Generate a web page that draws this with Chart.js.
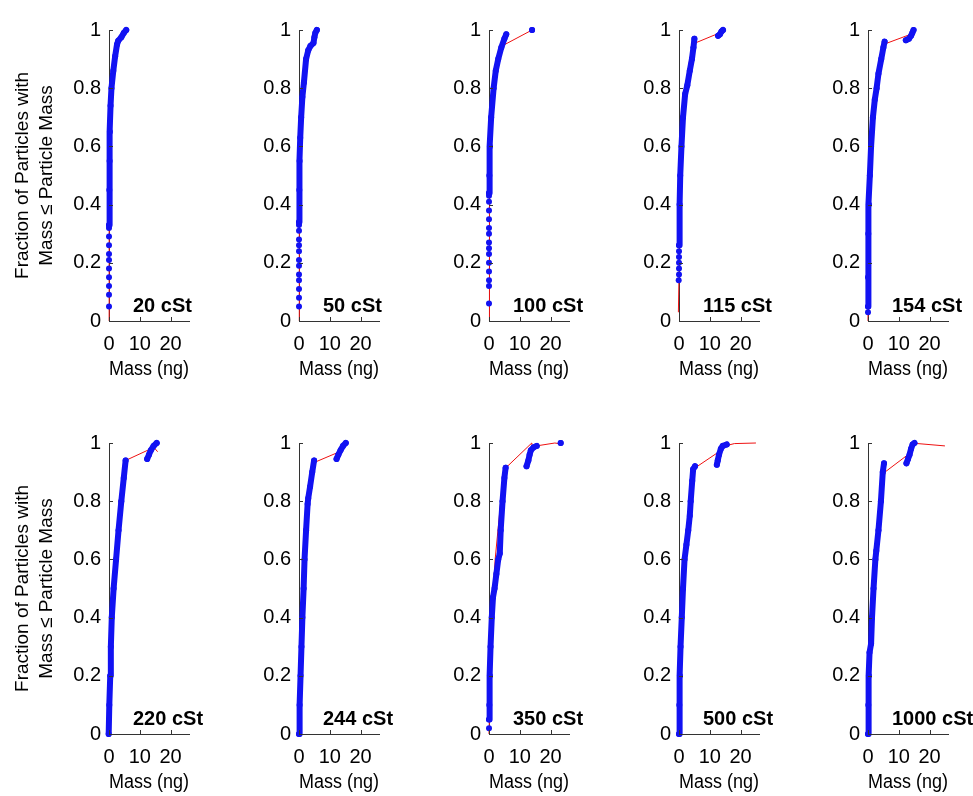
<!DOCTYPE html>
<html>
<head>
<meta charset="utf-8">
<script src="https://cdn.jsdelivr.net/npm/chart.js@4.4.0/dist/chart.umd.min.js"></script>
<style>
  html, body { margin: 0; padding: 0; background: #fff; overflow: hidden; }
  #wrap { position: relative; width: 973px; height: 796px; }
  #wrap canvas { position: absolute; }
</style>
</head>
<body>
<div id="wrap"></div>
<script>
// viscosity of each panel, read left to right, top to bottom
var panelNames = ['20 cSt', '50 cSt', '100 cSt', '115 cSt', '154 cSt',
                  '220 cSt', '244 cSt', '350 cSt', '500 cSt', '1000 cSt'];

var xTicks = [0, 10, 20];
var yTicks = [0, 0.2, 0.4, 0.6, 0.8, 1];

// [mass (ng), fraction]; null breaks the blue band
var dots20 = [[0,0.05],[0,0.09],[0,0.12],[0,0.15],[0,0.18],[0,0.21],[0,0.23],[0,0.26],[0,0.29],[0,0.32]];
var band20 = [[0,0.33],[0.1,0.45],[0.2,0.55],[0.3,0.65],[0.5,0.74],[0.8,0.8],[1.4,0.86],[2.0,0.91],[2.6,0.95],[3.0,0.963],[4.0,0.975],[4.8,0.99],[5.6,1.0]];
var fit20 = [[0,0],[0,0.05],[0.1,0.45],[0.5,0.74],[1.4,0.86],[2.6,0.95],[5.6,1.0]];

var dots50 = [[0,0.05],[0,0.08],[0,0.11],[0,0.14],[0,0.16],[0,0.19],[0,0.21],[0,0.24],[0,0.26],[0,0.28],[0,0.31],[0,0.33]];
var band50 = [[0,0.34],[0.1,0.45],[0.2,0.55],[0.4,0.63],[0.7,0.7],[1.1,0.77],[1.6,0.82],[2.3,0.9],[3.0,0.93],[3.7,0.945],[4.7,0.955],[5.0,0.975],[5.3,0.99],[5.8,1.0]];
var fit50 = [[0,0],[0,0.05],[0.2,0.55],[1.1,0.77],[2.3,0.9],[4.7,0.955],[5.8,1.0]];

var dots100 = [[0,0.06],[0,0.12],[0,0.14],[0,0.17],[0,0.2],[0,0.23],[0,0.25],[0,0.27],[0,0.3],[0,0.32],[0,0.35],[0,0.38],[0,0.41],[0,0.43]];
var band100 = [[0,0.44],[0.1,0.5],[0.3,0.6],[0.7,0.7],[1.5,0.8],[2.2,0.86],[3.0,0.9],[4.0,0.94],[5.0,0.97],[5.6,0.985],null,[14,1.0]];
var fit100 = [[0,0],[0,0.06],[0.3,0.6],[1.5,0.8],[3.0,0.9],[5.1,0.95],[14,1.0]];

var dots115 = [[-0.2,0.03],[-0.2,0.05],[-0.2,0.08],[-0.1,0.1],[-0.1,0.12],[-0.1,0.14],[0,0.16],[0,0.18],[0,0.2],[0,0.22],[0,0.24]];
var band115 = [[0,0.26],[0.2,0.4],[0.4,0.5],[0.8,0.6],[1.3,0.7],[2.0,0.78],[2.7,0.81],[3.5,0.86],[4.2,0.9],[4.7,0.94],[5.0,0.97],null,[12.7,0.98],[13.3,0.985],[13.8,0.995],[14.3,1.0]];
var fit115 = [[-0.2,0],[-0.2,0.03],[0,0.16],[0.4,0.5],[1.3,0.7],[1.9,0.79],[3.5,0.9],[5.2,0.955],[13.2,0.99],[14.3,1.0]];

var dots154 = [[0,0.03]];
var band154 = [[0,0.05],[0,0.15],[0.1,0.3],[0.3,0.4],[0.6,0.5],[1.0,0.6],[1.6,0.7],[2.2,0.76],[2.8,0.8],[3.4,0.85],[4.3,0.9],[5.0,0.94],[5.4,0.96],null,[12.3,0.965],[13.3,0.97],[14.0,0.98],[14.4,0.99],[14.8,1.0]];
var fit154 = [[0,0],[0,0.03],[1.0,0.6],[2.8,0.8],[5.4,0.955],[6.2,0.955],[13.8,0.985],[14.8,1.0]];

var dots220 = [];
var band220 = [[-0.1,0],[0.1,0.1],[0.4,0.2],[0.6,0.3],[0.9,0.4],[1.5,0.5],[2.3,0.6],[3.1,0.7],[4.0,0.8],[4.8,0.88],[5.4,0.94],null,[12.4,0.945],[13.0,0.96],[13.6,0.975],[14.5,0.99],[15.5,1.0]];
var fit220 = [[0,0],[0.9,0.4],[2.2,0.6],[3.3,0.8],[5.4,0.94],[14.6,0.985],[15.8,0.97]];

var dots244 = [];
var band244 = [[0,0],[0.2,0.1],[0.5,0.2],[0.8,0.3],[1.1,0.4],[1.5,0.5],[1.8,0.6],[2.3,0.7],[2.8,0.79],[3.0,0.81],[3.6,0.85],[4.3,0.9],[4.9,0.94],null,[12.2,0.945],[12.8,0.96],[13.5,0.975],[14.3,0.99],[15.2,1.0]];
var fit244 = [[0,0],[1.1,0.4],[2.3,0.7],[4.3,0.9],[5.4,0.935],[13.2,0.97],[15.2,1.0]];

var dots350 = [[0,0.02]];
var band350 = [[0,0.05],[0.1,0.1],[0.3,0.2],[0.5,0.3],[0.9,0.4],[1.3,0.47],[1.8,0.5],[2.4,0.55],[3.0,0.6],[3.5,0.62],[3.8,0.7],[4.4,0.8],[5.0,0.88],[5.4,0.915],null,[12.2,0.92],[12.8,0.94],[13.2,0.96],[13.6,0.975],[14.5,0.985],[15.5,0.99],null,[23.3,1.0]];
var fit350 = [[0,0],[0.9,0.4],[2.0,0.6],[4.0,0.82],[5.5,0.915],[13.9,1.0],[14.2,0.975],[15.4,0.99],[21.4,1.0],[23.3,0.997]];

var dots500 = [];
var band500 = [[0,0],[0.1,0.1],[0.3,0.2],[0.5,0.3],[0.9,0.4],[1.3,0.5],[1.8,0.6],[2.4,0.65],[3.0,0.7],[3.5,0.75],[3.8,0.8],[4.3,0.87],[4.6,0.91],[5.2,0.92],null,[12.3,0.925],[12.6,0.94],[13.0,0.96],[13.6,0.98],[14.2,0.99],[15.5,0.995]];
var fit500 = [[0,0],[0.9,0.4],[1.8,0.6],[3.8,0.8],[5.2,0.92],[6.0,0.92],[13.0,0.97],[15.0,0.99],[18,0.998],[25,1.0]];

var dots1000 = [];
var band1000 = [[0,0],[0.1,0.1],[0.3,0.2],[0.5,0.28],[1.0,0.31],[1.3,0.4],[1.8,0.5],[2.4,0.6],[2.7,0.63],[3.4,0.7],[4.2,0.8],[4.8,0.9],[5.2,0.93],null,[12.5,0.93],[13.0,0.945],[13.5,0.96],[14.0,0.98],[14.5,0.995],[15.1,1.0]];
var fit1000 = [[0,0],[0.5,0.28],[1.3,0.4],[2.4,0.6],[4.2,0.8],[5.5,0.9],[13.0,0.96],[14.0,1.0],[25,0.99]];

var dotSets = [dots20, dots50, dots100, dots115, dots154, dots220, dots244, dots350, dots500, dots1000];
var bandSets = [band20, band50, band100, band115, band154, band220, band244, band350, band500, band1000];
var fitSets = [fit20, fit50, fit100, fit115, fit154, fit220, fit244, fit350, fit500, fit1000];

// layout of the grid (pixels)
var colX = [109, 299, 489, 679, 868];
var rowTop = [24, 437];
var plotW = 80, plotH = 297;
var padTop = 14, axisH = 62, padRight = 32;
var FONT = "'Liberation Sans', Arial, Helvetica, sans-serif";
var BLUE = '#1212f2', RED = '#ee1111', AXIS = '#333';

Chart.defaults.font.family = FONT;
Chart.defaults.color = '#000';

function toXY(arr) {
    return arr.map(function (p) { return p ? {x: p[0], y: p[1]} : {x: null, y: null}; });
}

// MATLAB style ticks pointing into the plot, plus the viscosity label
var panelDeco = {
    id: 'panelDeco',
    afterDraw: function (chart, args, opts) {
        var ctx = chart.ctx, a = chart.chartArea;
        var sx = chart.scales.x, sy = chart.scales.y;
        ctx.save();
        ctx.strokeStyle = AXIS;
        ctx.lineWidth = 1;
        ctx.beginPath();
        sx.ticks.forEach(function (t) {
            var px = Math.round(sx.getPixelForValue(t.value)) + 0.5;
            ctx.moveTo(px, a.bottom);
            ctx.lineTo(px, a.bottom - 4);
        });
        sy.ticks.forEach(function (t) {
            var py = Math.round(sy.getPixelForValue(t.value)) + 0.5;
            ctx.moveTo(a.left, py);
            ctx.lineTo(a.left + 4, py);
        });
        ctx.stroke();
        ctx.fillStyle = '#000';
        ctx.font = 'bold 20px ' + FONT;
        ctx.textAlign = 'left';
        ctx.textBaseline = 'alphabetic';
        ctx.fillText(opts.name, a.left + 24, a.bottom - 9);
        ctx.restore();
    }
};

var wrap = document.getElementById('wrap');

for (var i = 0; i < panelNames.length; i++) {
    var col = i % 5, row = Math.floor(i / 5);
    var yW = col === 0 ? 109 : 60;

    var cv = document.createElement('canvas');
    cv.width = yW + plotW + padRight;
    cv.height = padTop + plotH + axisH;
    cv.style.left = (colX[col] - yW) + 'px';
    cv.style.top = (rowTop[row] - padTop) + 'px';
    wrap.appendChild(cv);

    (function (yW, col, i) {
        new Chart(cv, {
            type: 'line',
            data: {
                datasets: [
                    {
                        data: toXY(bandSets[i]),
                        borderColor: BLUE,
                        backgroundColor: BLUE,
                        borderWidth: 6,
                        borderCapStyle: 'round',
                        borderJoinStyle: 'round',
                        pointRadius: 3,
                        pointBorderWidth: 0,
                        tension: 0,
                        clip: false
                    },
                    {
                        data: toXY(dotSets[i]),
                        showLine: false,
                        backgroundColor: BLUE,
                        borderColor: BLUE,
                        pointRadius: 3,
                        pointBorderWidth: 0,
                        clip: false
                    },
                    {
                        data: toXY(fitSets[i]),
                        borderColor: RED,
                        borderWidth: 1,
                        pointRadius: 0,
                        tension: 0,
                        clip: false
                    }
                ]
            },
            options: {
                responsive: false,
                animation: false,
                devicePixelRatio: 1,
                layout: { padding: { top: padTop, right: padRight, left: 0, bottom: 0 } },
                plugins: {
                    legend: { display: false },
                    tooltip: { enabled: false },
                    panelDeco: { name: panelNames[i] }
                },
                scales: {
                    x: {
                        type: 'linear',
                        min: 0,
                        max: 26,
                        afterBuildTicks: function (s) { s.ticks = xTicks.map(function (v) { return {value: v}; }); },
                        grid: { display: false, drawTicks: false },
                        border: { display: true, color: AXIS, width: 1 },
                        ticks: { font: { size: 20 }, color: '#000', padding: 11, maxRotation: 0, autoSkip: false,
                                 callback: function (v) { return String(v); } },
                        title: { display: true, text: 'Mass (ng)', font: { size: 20 }, color: '#000', padding: { top: 0, bottom: 2 } },
                        afterFit: function (s) { s.height = axisH; }
                    },
                    y: {
                        type: 'linear',
                        min: 0,
                        max: 1,
                        afterBuildTicks: function (s) { s.ticks = yTicks.map(function (v) { return {value: v}; }); },
                        grid: { display: false, drawTicks: false },
                        border: { display: true, color: AXIS, width: 1 },
                        ticks: { font: { size: 20 }, color: '#000', padding: 8,
                                 callback: function (v) { return String(v); } },
                        title: {
                            display: col === 0,
                            text: ['Fraction of Particles with', 'Mass \u2264 Particle Mass'],
                            font: { size: 19, lineHeight: 1.3 },
                            color: '#000',
                            padding: { top: 10, bottom: 0 }
                        },
                        afterFit: function (s) { s.width = yW; }
                    }
                }
            },
            plugins: [panelDeco]
        });
    })(yW, col, i);
}
</script>
</body>
</html>
